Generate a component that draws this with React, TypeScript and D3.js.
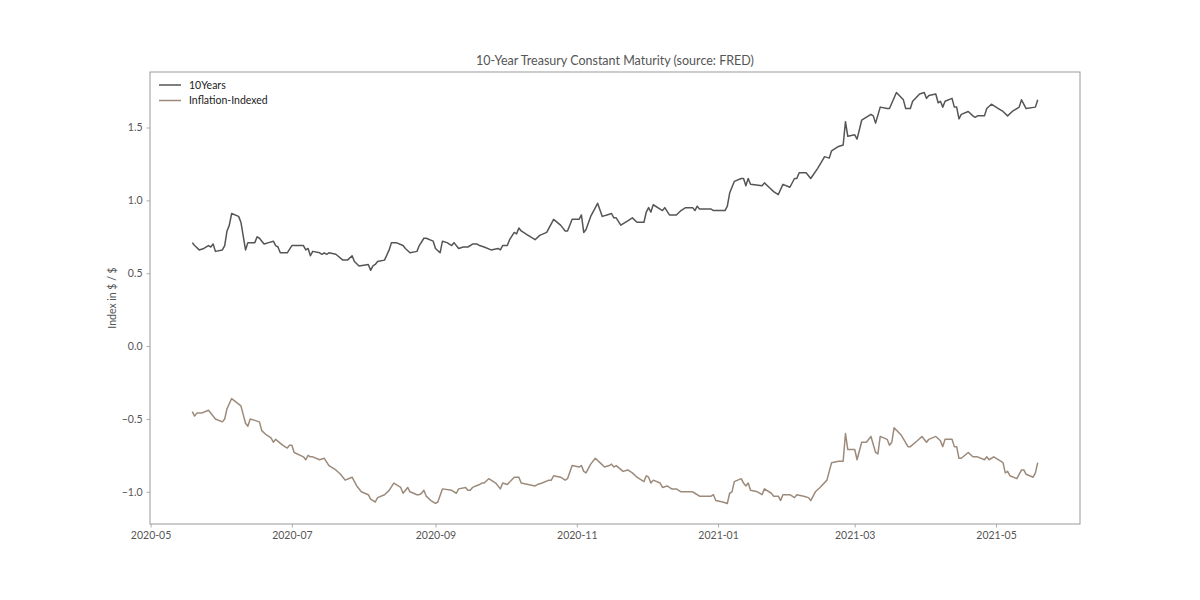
import * as d3 from 'd3';
import React, { useRef, useEffect } from 'react';

// 10-year nominal treasury yield (DGS10)
const tenYearDates = [
  "2020-05-19","2020-05-20","2020-05-22","2020-05-24","2020-05-26","2020-05-27","2020-05-28","2020-05-29",
  "2020-06-01","2020-06-02","2020-06-03","2020-06-04","2020-06-05","2020-06-08","2020-06-09","2020-06-11",
  "2020-06-12","2020-06-15","2020-06-16","2020-06-17","2020-06-19","2020-06-21","2020-06-23","2020-06-24",
  "2020-06-25","2020-06-26","2020-06-29","2020-07-01","2020-07-04","2020-07-06","2020-07-07","2020-07-08",
  "2020-07-09","2020-07-10","2020-07-13","2020-07-14","2020-07-15","2020-07-16","2020-07-17","2020-07-20",
  "2020-07-23","2020-07-25","2020-07-27","2020-07-28","2020-07-30","2020-08-03","2020-08-04","2020-08-05",
  "2020-08-06","2020-08-07","2020-08-10","2020-08-12","2020-08-13","2020-08-15","2020-08-18","2020-08-19",
  "2020-08-21","2020-08-24","2020-08-25","2020-08-27","2020-08-28","2020-08-31","2020-09-01","2020-09-03",
  "2020-09-04","2020-09-06","2020-09-08","2020-09-09","2020-09-11","2020-09-13","2020-09-15","2020-09-17",
  "2020-09-19","2020-09-20","2020-09-22","2020-09-25","2020-09-28","2020-09-29","2020-09-30","2020-10-02",
  "2020-10-03","2020-10-05","2020-10-06","2020-10-07","2020-10-08","2020-10-11","2020-10-14","2020-10-16",
  "2020-10-19","2020-10-22","2020-10-25","2020-10-27","2020-10-28","2020-10-30","2020-11-02","2020-11-03",
  "2020-11-04","2020-11-05","2020-11-07","2020-11-10","2020-11-12","2020-11-14","2020-11-16","2020-11-17",
  "2020-11-18","2020-11-20","2020-11-23","2020-11-25","2020-11-27","2020-11-30","2020-12-01","2020-12-02",
  "2020-12-03","2020-12-04","2020-12-07","2020-12-08","2020-12-09","2020-12-11","2020-12-14","2020-12-16",
  "2020-12-18","2020-12-21","2020-12-22","2020-12-23","2020-12-24","2020-12-29","2020-12-30","2021-01-04",
  "2021-01-05","2021-01-06","2021-01-08","2021-01-11","2021-01-12","2021-01-13","2021-01-14","2021-01-15",
  "2021-01-20","2021-01-21","2021-01-23","2021-01-25","2021-01-27","2021-01-29","2021-02-01","2021-02-03",
  "2021-02-04","2021-02-05","2021-02-08","2021-02-10","2021-02-13","2021-02-16","2021-02-18","2021-02-19",
  "2021-02-22","2021-02-24","2021-02-25","2021-02-26","2021-03-01","2021-03-02","2021-03-04","2021-03-08",
  "2021-03-09","2021-03-10","2021-03-12","2021-03-15","2021-03-16","2021-03-19","2021-03-22","2021-03-23",
  "2021-03-25","2021-03-26","2021-03-29","2021-03-31","2021-04-01","2021-04-02","2021-04-05","2021-04-06",
  "2021-04-07","2021-04-08","2021-04-09","2021-04-12","2021-04-13","2021-04-14","2021-04-15","2021-04-16",
  "2021-04-19","2021-04-21","2021-04-22","2021-04-23","2021-04-26","2021-04-27","2021-04-29","2021-05-02",
  "2021-05-04","2021-05-06","2021-05-08","2021-05-11","2021-05-12","2021-05-14","2021-05-18","2021-05-19"
];
const tenYearValues = [
  0.71,0.69,0.66,0.67,0.69,0.68,0.70,0.65,
  0.66,0.69,0.79,0.83,0.91,0.89,0.85,0.66,
  0.71,0.71,0.75,0.74,0.70,0.71,0.72,0.69,
  0.68,0.64,0.64,0.69,0.69,0.69,0.66,0.67,
  0.62,0.65,0.64,0.63,0.64,0.63,0.64,0.63,
  0.59,0.59,0.62,0.58,0.55,0.56,0.52,0.55,
  0.56,0.58,0.59,0.66,0.71,0.71,0.69,0.67,
  0.64,0.65,0.69,0.74,0.74,0.72,0.67,0.64,
  0.72,0.71,0.69,0.71,0.67,0.68,0.68,0.70,
  0.70,0.69,0.68,0.66,0.67,0.66,0.69,0.69,
  0.73,0.78,0.77,0.81,0.79,0.76,0.73,0.76,
  0.78,0.87,0.83,0.79,0.79,0.87,0.87,0.90,
  0.78,0.80,0.89,0.98,0.89,0.90,0.91,0.88,
  0.88,0.83,0.86,0.88,0.85,0.85,0.92,0.95,
  0.92,0.97,0.94,0.93,0.95,0.90,0.90,0.93,
  0.95,0.95,0.93,0.96,0.94,0.94,0.93,0.93,
  0.96,1.05,1.13,1.15,1.15,1.10,1.15,1.11,
  1.10,1.12,1.09,1.06,1.04,1.11,1.09,1.15,
  1.15,1.19,1.19,1.15,1.22,1.30,1.29,1.34,
  1.37,1.38,1.54,1.44,1.45,1.42,1.55,1.59,
  1.58,1.53,1.64,1.63,1.63,1.74,1.69,1.63,
  1.63,1.68,1.73,1.74,1.70,1.72,1.73,1.67,
  1.68,1.64,1.68,1.70,1.64,1.64,1.56,1.59,
  1.61,1.58,1.57,1.58,1.58,1.63,1.66,1.63,
  1.61,1.58,1.61,1.64,1.69,1.63,1.64,1.69
];

// 10-year inflation-indexed treasury yield (DFII10)
const tipsDates = [
  "2020-05-19","2020-05-20","2020-05-21","2020-05-23","2020-05-26","2020-05-29","2020-06-01","2020-06-02",
  "2020-06-03","2020-06-05","2020-06-09","2020-06-10","2020-06-11","2020-06-12","2020-06-13","2020-06-15",
  "2020-06-17","2020-06-18","2020-06-20","2020-06-22","2020-06-23","2020-06-24","2020-06-27","2020-06-29",
  "2020-06-30","2020-07-01","2020-07-02","2020-07-06","2020-07-07","2020-07-08","2020-07-09","2020-07-10",
  "2020-07-13","2020-07-15","2020-07-17","2020-07-20","2020-07-22","2020-07-24","2020-07-27","2020-07-29",
  "2020-07-31","2020-08-03","2020-08-04","2020-08-06","2020-08-07","2020-08-10","2020-08-12","2020-08-14",
  "2020-08-17","2020-08-18","2020-08-20","2020-08-21","2020-08-24","2020-08-25","2020-08-26","2020-08-27",
  "2020-08-28","2020-08-30","2020-09-01","2020-09-02","2020-09-04","2020-09-08","2020-09-10","2020-09-11",
  "2020-09-14","2020-09-15","2020-09-16","2020-09-17","2020-09-20","2020-09-21","2020-09-22","2020-09-24",
  "2020-09-27","2020-09-29","2020-09-30","2020-10-02","2020-10-05","2020-10-07","2020-10-08","2020-10-11",
  "2020-10-14","2020-10-15","2020-10-17","2020-10-20","2020-10-21","2020-10-22","2020-10-25","2020-10-27",
  "2020-10-28","2020-10-30","2020-11-02","2020-11-03","2020-11-04","2020-11-05","2020-11-07","2020-11-09",
  "2020-11-11","2020-11-13","2020-11-15","2020-11-16","2020-11-17","2020-11-18","2020-11-21","2020-11-23",
  "2020-11-25","2020-11-27","2020-11-30","2020-12-01","2020-12-02","2020-12-03","2020-12-04","2020-12-07",
  "2020-12-08","2020-12-10","2020-12-12","2020-12-14","2020-12-16","2020-12-21","2020-12-22","2020-12-24",
  "2020-12-29","2020-12-30","2020-12-31","2021-01-03","2021-01-05","2021-01-06","2021-01-07","2021-01-08",
  "2021-01-11","2021-01-12","2021-01-13","2021-01-14","2021-01-15","2021-01-18","2021-01-20","2021-01-21",
  "2021-01-24","2021-01-25","2021-01-27","2021-01-28","2021-01-29","2021-02-01","2021-02-03","2021-02-04",
  "2021-02-07","2021-02-09","2021-02-10","2021-02-12","2021-02-14","2021-02-17","2021-02-19","2021-02-22",
  "2021-02-24","2021-02-25","2021-02-26","2021-03-01","2021-03-02","2021-03-04","2021-03-06","2021-03-08",
  "2021-03-10","2021-03-11","2021-03-12","2021-03-15","2021-03-16","2021-03-17","2021-03-18","2021-03-21",
  "2021-03-24","2021-03-25","2021-03-28","2021-03-30","2021-04-01","2021-04-02","2021-04-05","2021-04-07",
  "2021-04-08","2021-04-09","2021-04-12","2021-04-13","2021-04-14","2021-04-15","2021-04-16","2021-04-19",
  "2021-04-21","2021-04-23","2021-04-26","2021-04-27","2021-04-28","2021-04-30","2021-05-03","2021-05-04",
  "2021-05-05","2021-05-06","2021-05-07","2021-05-10","2021-05-12","2021-05-13","2021-05-14","2021-05-17",
  "2021-05-18","2021-05-19"
];
const tipsValues = [
  -0.45,-0.48,-0.46,-0.46,-0.44,-0.50,-0.52,-0.50,
  -0.43,-0.36,-0.41,-0.47,-0.53,-0.55,-0.50,-0.51,
  -0.52,-0.58,-0.61,-0.63,-0.66,-0.64,-0.68,-0.70,
  -0.68,-0.68,-0.73,-0.76,-0.78,-0.75,-0.76,-0.76,
  -0.78,-0.77,-0.82,-0.85,-0.88,-0.92,-0.90,-0.96,
  -1.00,-1.02,-1.05,-1.07,-1.04,-1.02,-0.99,-0.94,
  -0.97,-1.01,-0.97,-1.00,-1.02,-1.02,-1.01,-0.99,
  -1.03,-1.06,-1.08,-1.07,-0.98,-0.99,-1.01,-0.98,
  -0.97,-0.99,-0.99,-0.97,-0.95,-0.94,-0.94,-0.91,
  -0.94,-0.98,-0.94,-0.95,-0.90,-0.90,-0.94,-0.95,
  -0.96,-0.95,-0.94,-0.92,-0.92,-0.89,-0.90,-0.92,
  -0.91,-0.82,-0.83,-0.82,-0.86,-0.87,-0.81,-0.77,
  -0.80,-0.83,-0.82,-0.81,-0.83,-0.82,-0.86,-0.85,
  -0.87,-0.90,-0.93,-0.89,-0.90,-0.94,-0.92,-0.94,
  -0.97,-0.96,-0.98,-0.98,-1.00,-1.00,-1.01,-1.03,
  -1.03,-1.02,-1.06,-1.07,-1.08,-1.01,-1.00,-0.93,
  -0.91,-0.94,-0.96,-0.94,-0.99,-1.00,-1.02,-0.98,
  -1.01,-1.03,-1.03,-1.06,-1.02,-1.02,-1.04,-1.02,
  -1.03,-1.04,-1.06,-1.00,-0.97,-0.92,-0.80,-0.79,
  -0.79,-0.60,-0.71,-0.71,-0.78,-0.66,-0.66,-0.62,
  -0.73,-0.74,-0.62,-0.64,-0.68,-0.66,-0.56,-0.61,
  -0.69,-0.69,-0.65,-0.62,-0.66,-0.64,-0.62,-0.65,
  -0.69,-0.64,-0.64,-0.69,-0.69,-0.77,-0.77,-0.73,
  -0.76,-0.76,-0.78,-0.76,-0.78,-0.76,-0.79,-0.80,
  -0.87,-0.86,-0.89,-0.91,-0.85,-0.85,-0.88,-0.90,
  -0.87,-0.80
];

const seriesNames = ["10Years", "Inflation-Indexed"];
const seriesColors = ["#555555", "#9c8a7b"];
const titleText = "10-Year Treasury Constant Maturity (source: FRED)";
const yLabelText = "Index in $ / $";

const FONT = "Lato, 'DejaVu Sans', sans-serif";

function App() {
  const ref = useRef(null);

  useEffect(() => {
    const svg = d3.select(ref.current);
    svg.selectAll('*').remove();
    draw(svg);
  }, []);

  const draw = (svg) => {
    const width = 1200, height = 600;
    const margin = { top: 72, right: 120, bottom: 76, left: 150 };
    const innerW = width - margin.left - margin.right;
    const innerH = height - margin.top - margin.bottom;

    const parse = d3.timeParse("%Y-%m-%d");
    const series = [
      tenYearDates.map((d, i) => ({ date: parse(d), value: tenYearValues[i] })),
      tipsDates.map((d, i) => ({ date: parse(d), value: tipsValues[i] })),
    ];
    const all = series.flat();

    // matplotlib style 5% padding on both axes
    const [x0, x1] = d3.extent(all, d => +d.date);
    const xPad = (x1 - x0) * 0.05;
    const [y0, y1] = d3.extent(all, d => d.value);
    const yPad = (y1 - y0) * 0.05;

    const x = d3.scaleTime().domain([new Date(x0 - xPad), new Date(x1 + xPad)]).range([0, innerW]);
    const y = d3.scaleLinear().domain([y0 - yPad, y1 + yPad]).range([innerH, 0]);

    const g = svg.append("g").attr("transform", "translate(" + margin.left + "," + margin.top + ")");

    const xAxis = g.append("g")
      .attr("transform", "translate(0," + innerH + ")")
      .call(d3.axisBottom(x).ticks(d3.timeMonth.every(2)).tickFormat(d3.timeFormat("%Y-%m")).tickSizeOuter(0).tickSize(3.5).tickPadding(4));
    const yAxis = g.append("g")
      .call(d3.axisLeft(y).ticks(6).tickFormat(d3.format(".1f")).tickSizeOuter(0).tickSize(3.5).tickPadding(4));

    [xAxis, yAxis].forEach(a => {
      a.select(".domain").remove();
      a.selectAll("line").attr("stroke", "#999999").attr("stroke-width", 0.8);
      a.selectAll("text").attr("fill", "#555555").attr("font-family", FONT).attr("font-size", "10.5px");
    });

    // frame
    g.append("rect")
      .attr("x", 0).attr("y", 0).attr("width", innerW).attr("height", innerH)
      .attr("fill", "none").attr("stroke", "#999999").attr("stroke-width", 1);

    const line = d3.line().x(d => x(d.date)).y(d => y(d.value));
    series.forEach((s, i) => {
      g.append("path")
        .datum(s)
        .attr("d", line)
        .attr("fill", "none")
        .attr("stroke", seriesColors[i])
        .attr("stroke-width", 1.5)
        .attr("stroke-linejoin", "round");
    });

    // legend
    const legend = g.append("g").attr("transform", "translate(9,13)");
    seriesNames.forEach((name, i) => {
      const row = legend.append("g").attr("transform", "translate(0," + i * 15.5 + ")");
      row.append("line").attr("x1", 0).attr("x2", 22).attr("y1", 0).attr("y2", 0)
        .attr("stroke", seriesColors[i]).attr("stroke-width", 1.5);
      row.append("text").attr("x", 30).attr("y", 0).attr("dy", "0.35em")
        .attr("font-family", FONT).attr("font-size", "10.5px").attr("fill", "#222222")
        .text(name);
    });

    svg.append("text")
      .attr("x", margin.left + innerW / 2).attr("y", margin.top - 7)
      .attr("text-anchor", "middle")
      .attr("font-family", FONT).attr("font-size", "12.5px").attr("fill", "#555555")
      .text(titleText);

    svg.append("text")
      .attr("transform", "translate(" + (margin.left - 34) + "," + (margin.top + innerH / 2) + ") rotate(-90)")
      .attr("text-anchor", "middle")
      .attr("font-family", FONT).attr("font-size", "10.5px").attr("fill", "#555555")
      .text(yLabelText);
  };

  return (
    <svg ref={ref} width={1200} height={600}
      style={{ position: "absolute", left: 0, top: 0, background: "#ffffff" }} />
  );
}

export default App;
